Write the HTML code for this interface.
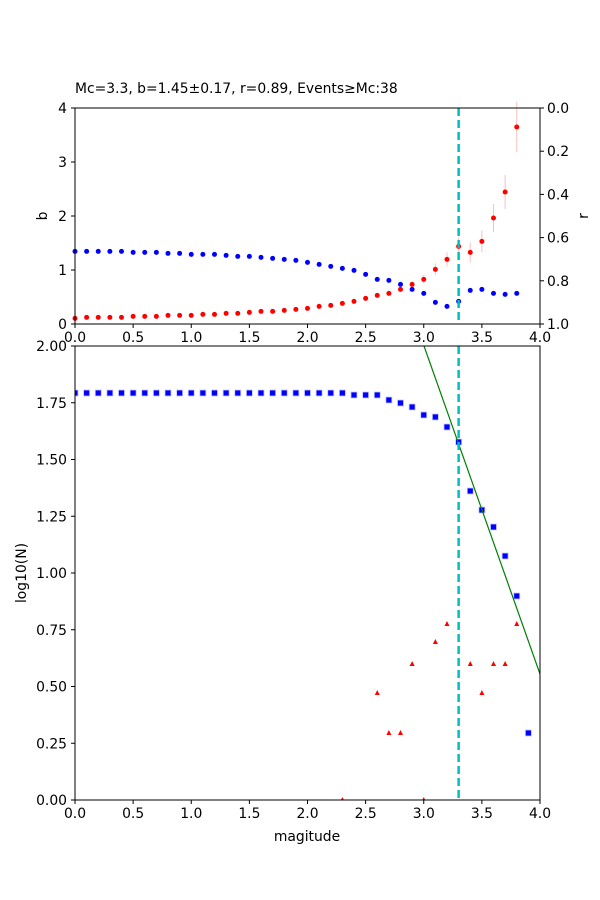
<!DOCTYPE html>
<html><head><meta charset="utf-8"><style>body{margin:0;background:#fff}svg{display:block}text{font-family:"DejaVu Sans","Liberation Sans",sans-serif;font-size:13.9px;fill:#000}</style></head>
<body>
<svg width="600" height="900" viewBox="0 0 600 900" xmlns="http://www.w3.org/2000/svg" id="s">
<rect width="600" height="900" fill="#fff"/>
<text x="75" y="93">Mc=3.3, b=1.45±0.17, r=0.89, Events≥Mc:38</text>
<g id="top"></g>
<g id="bot"></g>
</svg>
<script>
var NS="http://www.w3.org/2000/svg";
function el(p,t,a,txt){var e=document.createElementNS(NS,t);for(var k in a)e.setAttribute(k,a[k]);if(txt!==undefined)e.textContent=txt;p.appendChild(e);return e;}
function X(m){return 75+m*116.25;}
var T=document.getElementById('top');
var blue=[64,64,64,64,64,67,67,67,70,70,73,73,73,76,79,79,82,85,88,91,97,103,109,115,121,133,148,151,163,178,190,217,229,214,181,178,190,193,190];
var red=[265,262,262,262,262,259,259,259,256,256,256,253,253,250,250,247,244,244,241,238,235,229,226,220,214,205,196,190,178,163,148,118,88,49,67,34];
var redpx=red.map(function(v){return 230+v/3;});redpx.push(218,192,127);
var errs=[0,0,0,0,0,0,0,0,0,0,0,0,0,0,0,0,0,0,0,0,0,0,0,0,0,0,0,0,0,3,4,6,7,9,10,11,14,17,25];
for(var i=0;i<redpx.length;i++){var x=X(i*0.1);if(errs[i])el(T,'line',{x1:x,x2:x,y1:redpx[i]-errs[i],y2:redpx[i]+errs[i],stroke:'#f8c0c0','stroke-width':1});}
for(var i=0;i<blue.length;i++)el(T,'circle',{cx:X(i*0.1),cy:230+blue[i]/3,r:2.5,fill:'#0000ff'});
for(var i=0;i<redpx.length;i++)el(T,'circle',{cx:X(i*0.1),cy:redpx[i],r:2.5,fill:'#ff0000'});
el(T,'line',{x1:X(3.3),x2:X(3.3),y1:108,y2:324,stroke:'#00bfbf','stroke-width':2.5,'stroke-dasharray':'8,4'});
el(T,'rect',{x:75,y:108,width:465,height:216,fill:'none',stroke:'#000','stroke-width':1});
for(var i=0;i<=8;i++){var x=X(i*0.5);el(T,'line',{x1:x,x2:x,y1:324,y2:328,stroke:'#000'});el(T,'text',{x:x,y:342,'text-anchor':'middle'},(i*0.5).toFixed(1));}
for(var i=0;i<=4;i++){var y=324-i*54;el(T,'line',{x1:71,x2:75,y1:y,y2:y,stroke:'#000'});el(T,'text',{x:67,y:y+5,'text-anchor':'end'},i);}
for(var i=0;i<=5;i++){var y=108+i*43.2;el(T,'line',{x1:540,x2:544,y1:y,y2:y,stroke:'#000'});el(T,'text',{x:547,y:y+5},(i*0.2).toFixed(1));}
el(T,'text',{x:47,y:216,'text-anchor':'middle',transform:'rotate(-90 47 216)'},'b');
el(T,'text',{x:588,y:216,'text-anchor':'middle',transform:'rotate(-90 588 216)'},'r');
var B=document.getElementById('bot');
function Y(v){return 800-v*227;}
var cp=el(B,'clipPath',{id:'c'});el(cp,'rect',{x:75,y:346,width:465,height:454});
var g=el(B,'g',{'clip-path':'url(#c)'});
var by=[393,393,393,393,393,393,393,393,393,393,393,393,393,393,393,393,393,393,393,393,393,393,393,393,395,395,395,400,403,407,415,417,427,442,491,510,527,556,596,733];
for(var i=0;i<by.length;i++)el(g,'rect',{x:X(i*0.1)-3,y:by[i]-3,width:6,height:6,fill:'#0000ff',stroke:'#c8c8ff','stroke-width':0.8});
var tri=[[2.3,800],[2.6,693],[2.7,733],[2.8,733],[2.9,664],[3.0,800],[3.1,642],[3.2,624],[3.4,664],[3.5,693],[3.6,664],[3.7,664],[3.8,624]];
tri.forEach(function(t){var x=X(t[0]),y=t[1];el(g,'polygon',{points:(x-2.5)+','+(y+2)+' '+(x+2.5)+','+(y+2)+' '+x+','+(y-3),fill:'#ff0000'});});
el(g,'line',{x1:424,y1:346,x2:540,y2:674,stroke:'#008000','stroke-width':1.2});
el(g,'line',{x1:X(3.3),x2:X(3.3),y1:346,y2:800,stroke:'#00bfbf','stroke-width':2.5,'stroke-dasharray':'8,4'});
el(B,'rect',{x:75,y:346,width:465,height:454,fill:'none',stroke:'#000','stroke-width':1});
for(var i=0;i<=8;i++){var x=X(i*0.5);el(B,'line',{x1:x,x2:x,y1:800,y2:804,stroke:'#000'});el(B,'text',{x:x,y:818,'text-anchor':'middle'},(i*0.5).toFixed(1));}
for(var i=0;i<=8;i++){var v=i*0.25,y=Y(v);el(B,'line',{x1:71,x2:75,y1:y,y2:y,stroke:'#000'});el(B,'text',{x:67,y:y+5,'text-anchor':'end'},v.toFixed(2));}
el(B,'text',{x:307,y:841,'text-anchor':'middle'},'magitude');
el(B,'text',{x:26,y:573,'text-anchor':'middle',transform:'rotate(-90 26 573)'},'log10(N)');
</script>
</body></html>
